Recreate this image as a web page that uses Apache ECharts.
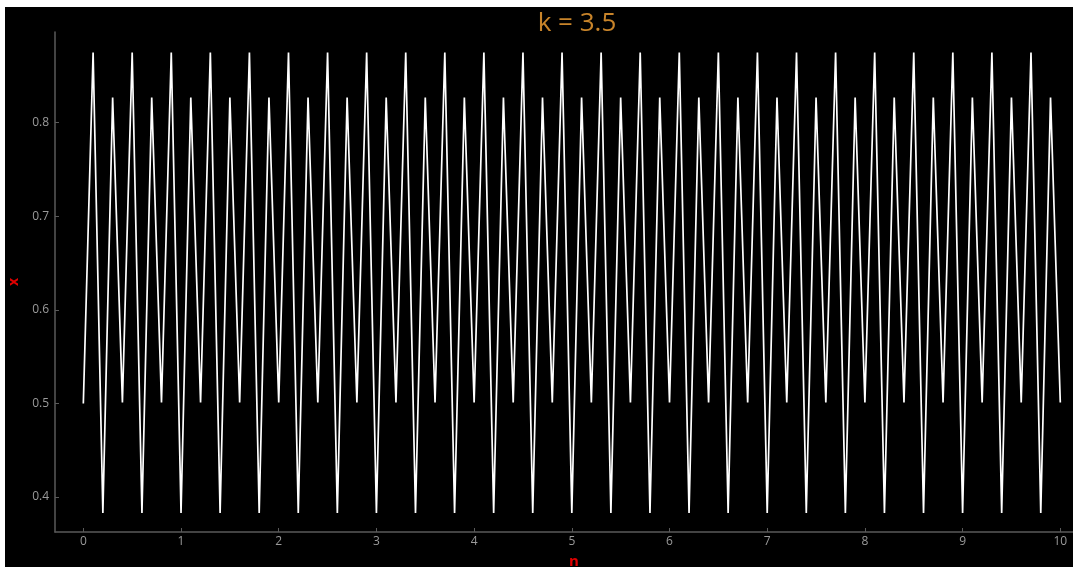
<!DOCTYPE html>
<html>
<head>
<meta charset="utf-8">
<script src="https://cdn.jsdelivr.net/npm/echarts@6/dist/echarts.min.js"></script>
<style>
html,body{margin:0;padding:0;background:#ffffff;width:1073px;height:568px;overflow:hidden;}
#chart{position:absolute;left:5px;top:7px;width:1068px;height:560px;background:#000;}
</style>
</head>
<body>
<div id="chart"></div>
<script>
var titleText = "k = 3.5";
var xName = "n";
var yName = "x";
var nValues = [0,0.1,0.2,0.3,0.4,0.5,0.6,0.7,0.8,0.9,1,1.1,1.2,1.3,1.4,1.5,1.6,1.7,1.8,1.9,2,2.1,2.2,2.3,2.4,2.5,2.6,2.7,2.8,2.9,3,3.1,3.2,3.3,3.4,3.5,3.6,3.7,3.8,3.9,4,4.1,4.2,4.3,4.4,4.5,4.6,4.7,4.8,4.9,5,5.1,5.2,5.3,5.4,5.5,5.6,5.7,5.8,5.9,6,6.1,6.2,6.3,6.4,6.5,6.6,6.7,6.8,6.9,7,7.1,7.2,7.3,7.4,7.5,7.6,7.7,7.8,7.9,8,8.1,8.2,8.3,8.4,8.5,8.6,8.7,8.8,8.9,9,9.1,9.2,9.3,9.4,9.5,9.6,9.7,9.8,9.9,10];
var xValues = [0.5,
0.875,0.3828,0.8269,0.5009, 0.875,0.3828,0.8269,0.5009, 0.875,0.3828,0.8269,0.5009, 0.875,0.3828,0.8269,0.5009, 0.875,0.3828,0.8269,0.5009,
0.875,0.3828,0.8269,0.5009, 0.875,0.3828,0.8269,0.5009, 0.875,0.3828,0.8269,0.5009, 0.875,0.3828,0.8269,0.5009, 0.875,0.3828,0.8269,0.5009,
0.875,0.3828,0.8269,0.5009, 0.875,0.3828,0.8269,0.5009, 0.875,0.3828,0.8269,0.5009, 0.875,0.3828,0.8269,0.5009, 0.875,0.3828,0.8269,0.5009,
0.875,0.3828,0.8269,0.5009, 0.875,0.3828,0.8269,0.5009, 0.875,0.3828,0.8269,0.5009, 0.875,0.3828,0.8269,0.5009, 0.875,0.3828,0.8269,0.5009,
0.875,0.3828,0.8269,0.5009, 0.875,0.3828,0.8269,0.5009, 0.875,0.3828,0.8269,0.5009, 0.875,0.3828,0.8269,0.5009, 0.875,0.3828,0.8269,0.5009];
var xTicks = [0,1,2,3,4,5,6,7,8,9,10];
var yTicks = [0.4,0.5,0.6,0.7,0.8];

var pts = nValues.map(function(n,i){return [n, xValues[i]];});
var chart = echarts.init(document.getElementById('chart'), null, {renderer:'canvas'});
var axisCol = '#5a5a5a';
var labCol = '#9a9a9a';
chart.setOption({
  backgroundColor:'#000',
  animation:false,
  title:{text:titleText, left:567, top:-1, textAlign:'center',
    textStyle:{color:'#c8842a', fontSize:26, fontWeight:'normal', fontFamily:'Open Sans'}},
  grid:{left:50, right:0, top:25, bottom:35, containLabel:false, outerBoundsMode:'none'},
  xAxis:{type:'value', min:-0.29, max:10.13,
    name:xName, nameLocation:'middle', nameGap:22,
    nameTextStyle:{color:'#e00000', fontSize:15, fontFamily:'Open Sans', fontWeight:'bold', padding:[0,0,0,20]},
    axisLine:{show:true, onZero:false, lineStyle:{color:axisCol, width:1.5}},
    axisTick:{show:true, inside:true, length:4, customValues:xTicks, lineStyle:{color:axisCol}},
    axisLabel:{customValues:xTicks, color:labCol, fontSize:12, margin:4, fontFamily:'Open Sans'},
    splitLine:{show:false}},
  yAxis:{type:'value', min:0.3626, max:0.8969,
    name:yName, nameLocation:'middle', nameGap:32, nameRotate:90,
    nameTextStyle:{color:'#e00000', fontSize:14, fontFamily:'Open Sans', fontWeight:'bold'},
    axisLine:{show:true, onZero:false, lineStyle:{color:axisCol, width:1.5}},
    axisTick:{show:true, inside:true, length:4, customValues:yTicks, lineStyle:{color:axisCol}},
    axisLabel:{customValues:yTicks, color:labCol, fontSize:12, margin:6, fontFamily:'Open Sans',
      formatter:function(v){return v.toFixed(1);}},
    splitLine:{show:false}},
  series:[{type:'line', data:pts, showSymbol:false, symbol:'none',
    lineStyle:{color:'#ffffff', width:1.7}, clip:false}]
});
</script>
</body>
</html>
